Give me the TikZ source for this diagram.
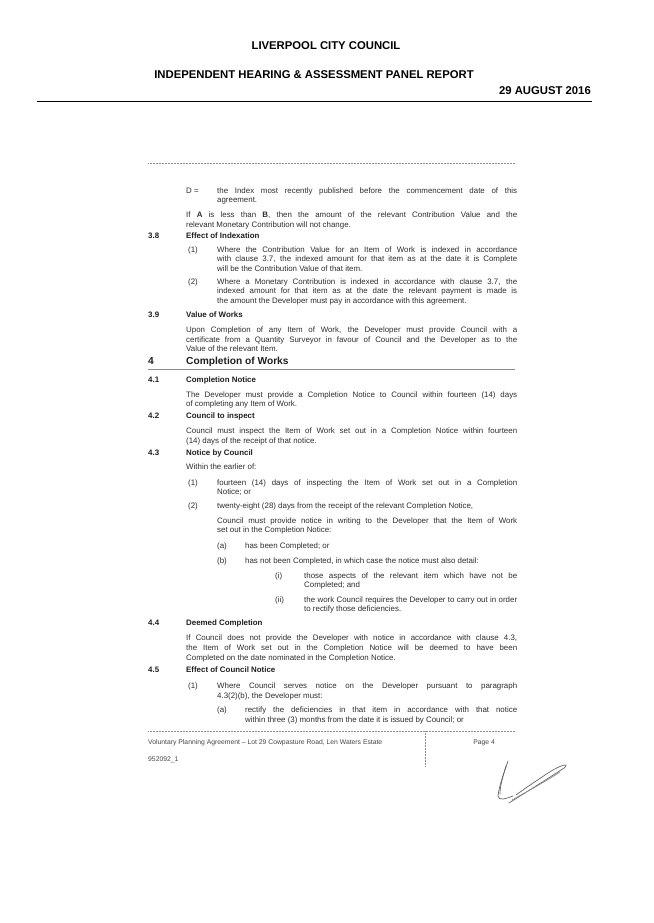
\documentclass[tikz,border=0pt]{standalone}
\usepackage{fontspec}
\setmainfont{Liberation Sans}
\newcounter{ln}
\tikzset{
  txt/.style={anchor=base west, inner sep=0pt, text=black!82, font=\fontsize{7.9}{9}\selectfont},
  head/.style={anchor=base west, inner sep=0pt, text=black!88, font=\fontsize{7.9}{9}\selectfont\bfseries},
  bighead/.style={anchor=base west, inner sep=0pt, text=black!88, font=\fontsize{10.2}{12}\selectfont\bfseries},
  foot/.style={anchor=base west, inner sep=0pt, text=black!72, font=\fontsize{6.8}{8}\selectfont},
  title/.style={anchor=base, inner sep=0pt, text=black, font=\fontsize{11.3}{13}\selectfont\bfseries},
  rulegray/.style={black!45, line width=0.6pt},
  sig/.style={black!60, line width=0.7pt, line cap=round}
}
\newcommand\txtL[3]{\stepcounter{ln}\node[txt] (t\theln) at (#1,{Y(#2)}) {#3};}
\newcommand\txtJ[4]{\stepcounter{ln}\node[txt] (t\theln) at (#1,{Y(#2)}) {\makebox[#3pt][s]{#4}};}
\newcommand\hdL[3]{\stepcounter{ln}\node[head] (t\theln) at (#1,{Y(#2)}) {#3};}
\begin{document}
\begin{tikzpicture}[x=1pt,y=-1pt,
  declare function={Y(\q)=166+(\q-163)*0.91;}]
\path[use as bounding box, fill=white] (0,0) rectangle (653,923);
% page header
\node[title] (h1) at (326,50) {LIVERPOOL CITY COUNCIL};
\node[title] (h2) at (314,79) {INDEPENDENT HEARING \& ASSESSMENT PANEL REPORT};
\node[title, anchor=base east] (h3) at (591,95) {29 AUGUST 2016};
\coordinate (r1a) at (37,101); \coordinate (r1b) at (592,101);
\draw[black, line width=0.9pt] (r1a) -- (r1b);
% inner page top rule
\coordinate (r2a) at (148,163); \coordinate (r2b) at (515,163);
\draw[rulegray, dash pattern=on 1pt off 0.5pt] (r2a) -- (r2b);
% body
\txtL{186}{193}{D =}
\txtJ{217}{193}{300}{the Index most recently published before the commencement date of this}
\txtL{217}{203}{agreement.}
\txtJ{186}{220}{331}{If \textbf{A} is less than \textbf{B}, then the amount of the relevant Contribution Value and the}
\txtL{186}{231}{relevant Monetary Contribution will not change.}
\hdL{148}{243}{3.8}
\hdL{186}{243}{Effect of Indexation}
\txtL{188}{258}{(1)}
\txtJ{217}{258}{300}{Where the Contribution Value for an Item of Work is indexed in accordance}
\txtJ{217}{268}{300}{with clause 3.7, the indexed amount for that item as at the date it is Complete}
\txtL{217}{279}{will be the Contribution Value of that item.}
\txtL{188}{293}{(2)}
\txtJ{217}{293}{300}{Where a Monetary Contribution is indexed in accordance with clause 3.7, the}
\txtJ{217}{303}{300}{indexed amount for that item as at the date the relevant payment is made is}
\txtL{217}{314}{the amount the Developer must pay in accordance with this agreement.}
\hdL{148}{329}{3.9}
\hdL{186}{329}{Value of Works}
\txtJ{186}{346}{331}{Upon Completion of any Item of Work, the Developer must provide Council with a}
\txtJ{186}{357}{331}{certificate from a Quantity Surveyor in favour of Council and the Developer as to the}
\txtL{186}{367}{Value of the relevant Item.}
\node[bighead] (s4n) at (148,{Y(381)}) {4};
\node[bighead] (s4t) at (186,{Y(381)}) {Completion of Works};
\coordinate (r3a) at (148,{Y(386)}); \coordinate (r3b) at (515,{Y(386)});
\draw[rulegray] (r3a) -- (r3b);
\hdL{148}{401}{4.1}
\hdL{186}{401}{Completion Notice}
\txtJ{186}{417}{331}{The Developer must provide a Completion Notice to Council within fourteen (14) days}
\txtL{186}{427}{of completing any Item of Work.}
\hdL{148}{441}{4.2}
\hdL{186}{441}{Council to inspect}
\txtJ{186}{457}{331}{Council must inspect the Item of Work set out in a Completion Notice within fourteen}
\txtL{186}{468}{(14) days of the receipt of that notice.}
\hdL{148}{481}{4.3}
\hdL{186}{481}{Notice by Council}
\txtL{186}{497}{Within the earlier of:}
\txtL{188}{514}{(1)}
\txtJ{217}{514}{300}{fourteen (14) days of inspecting the Item of Work set out in a Completion}
\txtL{217}{524}{Notice; or}
\txtL{188}{539}{(2)}
\txtL{217}{539}{twenty-eight (28) days from the receipt of the relevant Completion Notice,}
\txtJ{217}{556}{300}{Council must provide notice in writing to the Developer that the Item of Work}
\txtL{217}{566}{set out in the Completion Notice:}
\txtL{217}{583}{(a)}
\txtL{245}{583}{has been Completed; or}
\txtL{217}{600}{(b)}
\txtL{245}{600}{has not been Completed, in which case the notice must also detail:}
\txtL{275}{616}{(i)}
\txtJ{304}{616}{213}{those aspects of the relevant item which have not be}
\txtL{304}{626}{Completed; and}
\txtL{275}{643}{(ii)}
\txtJ{304}{643}{213}{the work Council requires the Developer to carry out in order}
\txtL{304}{653}{to rectify those deficiencies.}
\hdL{148}{668}{4.4}
\hdL{186}{668}{Deemed Completion}
\txtJ{186}{684}{331}{If Council does not provide the Developer with notice in accordance with clause 4.3,}
\txtJ{186}{695}{331}{the Item of Work set out in the Completion Notice will be deemed to have been}
\txtL{186}{706}{Completed on the date nominated in the Completion Notice.}
\hdL{148}{720}{4.5}
\hdL{186}{720}{Effect of Council Notice}
\txtL{188}{737}{(1)}
\txtJ{217}{737}{300}{Where Council serves notice on the Developer pursuant to paragraph}
\txtL{217}{748}{4.3(2)(b), the Developer must:}
\txtL{217}{764}{(a)}
\txtJ{245}{764}{272}{rectify the deficiencies in that item in accordance with that notice}
\txtL{245}{775}{within three (3) months from the date it is issued by Council; or}
% footer
\coordinate (r4a) at (148,731); \coordinate (r4b) at (515,731);
\draw[rulegray, dash pattern=on 1pt off 0.5pt] (r4a) -- (r4b);
\coordinate (v1a) at (425,731); \coordinate (v1b) at (425,766);
\draw[rulegray, dash pattern=on 1pt off 0.5pt] (v1a) -- (v1b);
\node[foot] (f1) at (148,744) {Voluntary Planning Agreement -- Lot 29 Cowpasture Road, Len Waters Estate};
\node[foot, anchor=base east] (f2) at (495,744) {Page 4};
\node[foot] (f3) at (148,761) {952092\_1};
% signature
\draw[sig] (508,761) .. controls (504,773) and (499,786) .. (498,796) .. controls (499,801) and (505,799) .. (513,796);
\draw[sig] (506,766) .. controls (503,776) and (500,786) .. (500,794);
\draw[sig] (509,803) .. controls (528,791) and (552,776) .. (564,768) .. controls (570,763) and (562,764) .. (548,773) .. controls (536,781) and (524,789) .. (516,795);
\draw[sig, black!45] (512,800) .. controls (530,790) and (548,780) .. (560,772);
\end{tikzpicture}
\end{document}
